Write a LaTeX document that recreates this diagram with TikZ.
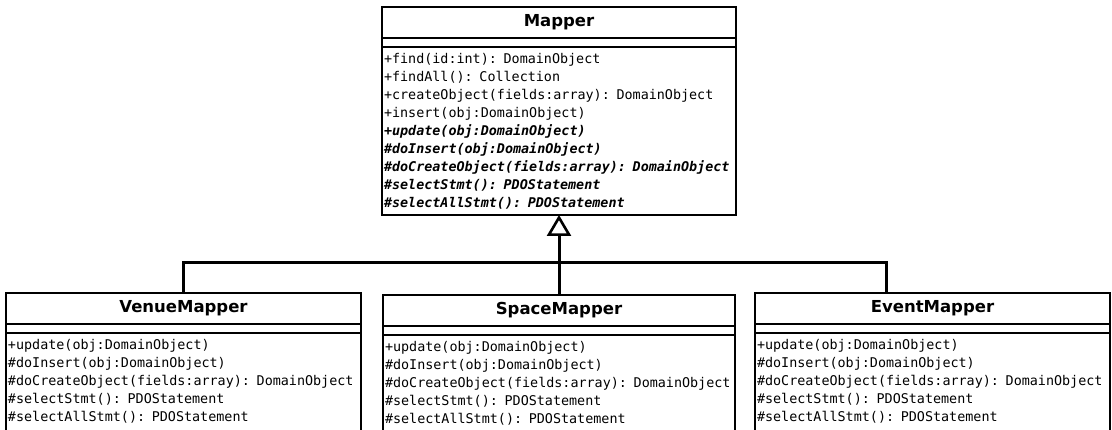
\documentclass[tikz,border=0pt]{standalone}
\usepackage{fontspec}
\setmainfont{DejaVu Sans}
\newfontfamily\umlmono{DejaVu Sans Mono}
\usetikzlibrary{positioning,arrows.meta}
\newcommand\abstractop[1]{{\bfseries\itshape #1}}
\tikzset{
  umlname/.style={draw,line width=2.6pt,anchor=north west,inner sep=0pt,outer sep=0pt,
    minimum width=#1,minimum height=31pt,font=\fontsize{16.5}{20}\selectfont\bfseries},
  umlattr/.style={draw,line width=2.6pt,inner sep=0pt,outer sep=0pt,
    minimum width=#1,minimum height=9pt},
  umlops/.style={draw,line width=2.6pt,outer sep=0pt,inner xsep=2pt,inner ysep=6pt,
    text width=#1-4pt,align=left,font=\umlmono\fontsize{13.4}{18}\selectfont},
  generalize/.style={line width=3pt},
}
\begin{document}
\begin{tikzpicture}[x=1pt,y=-1pt]
\useasboundingbox (0,0) rectangle (1112,429);

% base class
\node[umlname=354pt] (mapper) at (382,7) {Mapper};
\node[umlattr=354pt,below=0pt of mapper] (mapperattr) {};
\node[umlops=354pt,below=0pt of mapperattr] (mapperops) {+find(id:int): DomainObject\\
+findAll(): Collection\\
+createObject(fields:array): DomainObject\\
+insert(obj:DomainObject)\\
\abstractop{+update(obj:DomainObject)}\\
\abstractop{\#doInsert(obj:DomainObject)}\\
\abstractop{\#doCreateObject(fields:array): DomainObject}\\
\abstractop{\#selectStmt(): PDOStatement}\\
\abstractop{\#selectAllStmt(): PDOStatement}};

% subclasses (cut at the bottom edge)
\node[umlname=355pt] (venue) at (6,293) {VenueMapper};
\node[umlattr=355pt,below=0pt of venue] (venueattr) {};
\node[umlops=355pt,text depth=105pt,below=0pt of venueattr] (venueops) {+update(obj:DomainObject)\\
\#doInsert(obj:DomainObject)\\
\#doCreateObject(fields:array): DomainObject\\
\#selectStmt(): PDOStatement\\
\#selectAllStmt(): PDOStatement};

\node[umlname=352pt] (space) at (383,295) {SpaceMapper};
\node[umlattr=352pt,below=0pt of space] (spaceattr) {};
\node[umlops=352pt,text depth=105pt,below=0pt of spaceattr] (spaceops) {+update(obj:DomainObject)\\
\#doInsert(obj:DomainObject)\\
\#doCreateObject(fields:array): DomainObject\\
\#selectStmt(): PDOStatement\\
\#selectAllStmt(): PDOStatement};

\node[umlname=355pt] (event) at (755,293) {EventMapper};
\node[umlattr=355pt,below=0pt of event] (eventattr) {};
\node[umlops=355pt,text depth=105pt,below=0pt of eventattr] (eventops) {+update(obj:DomainObject)\\
\#doInsert(obj:DomainObject)\\
\#doCreateObject(fields:array): DomainObject\\
\#selectStmt(): PDOStatement\\
\#selectAllStmt(): PDOStatement};

% generalization tree
\coordinate (hub) at (559,262);
\coordinate (eventtop) at ([xshift=-46pt]event.north);
\draw[generalize] (venue.north) |- (hub) -| (eventtop);
\draw[generalize,-{Triangle[open,length=21pt,width=24pt,line width=2.6pt]}] (space.north) -- (mapperops.south);
\end{tikzpicture}
\end{document}
